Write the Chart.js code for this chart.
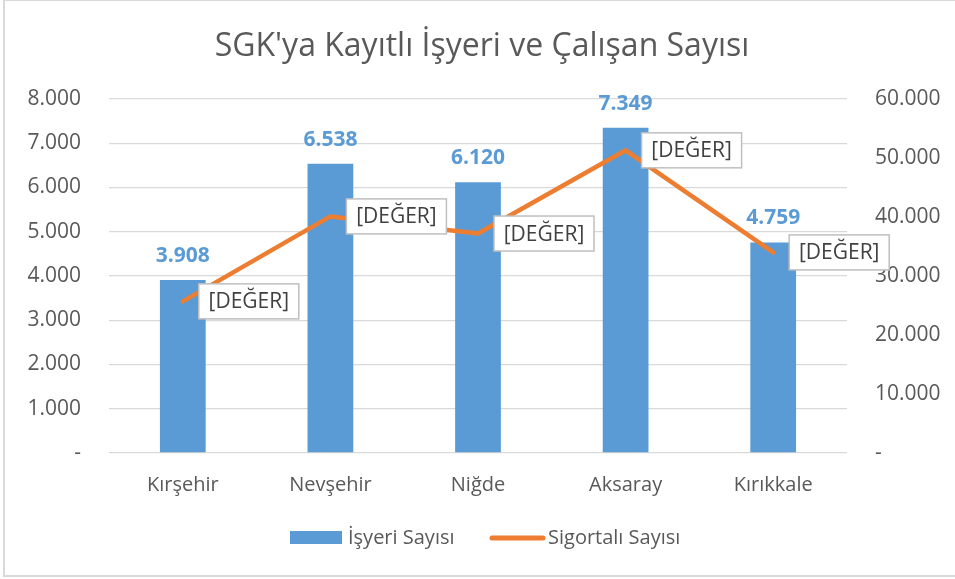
<!DOCTYPE html>
<html>
<head>
<meta charset="utf-8">
<script src="https://cdn.jsdelivr.net/npm/chart.js@4.4.1/dist/chart.umd.min.js"></script>
<style>
    html, body { margin: 0; padding: 0; background: #fff; }
    #wrap { position: absolute; left: 0; top: 0; width: 955px; height: 579px; }
</style>
</head>
<body>
<div id="wrap"><canvas id="mainChart" width="955" height="579"></canvas></div>
<script>
const cities = ['Kırşehir', 'Nevşehir', 'Niğde', 'Aksaray', 'Kırıkkale'];
const isyeriSayisi = [3908, 6538, 6120, 7349, 4759];
const sigortaliSayisi = [25700, 40100, 37200, 51300, 34000];
const lineLabel = '[DEĞER]';
const chartTitle = "SGK'ya Kayıtlı İşyeri ve Çalışan Sayısı";
const seriesNames = ['İşyeri Sayısı', 'Sigortalı Sayısı'];

const BLUE = '#5B9BD5';
const ORANGE = '#ED7D31';
const TEXT = '#595959';
const FONT = "'Open Sans', sans-serif";

function fmt(v) {
    if (v === 0) return '-';
    return String(v).replace(/\B(?=(\d{3})+(?!\d))/g, '.');
}

// border, title, value labels and legend
const decorations = {
    id: 'decorations',
    beforeDraw(chart) {
        const ctx = chart.ctx;
        ctx.save();
        ctx.strokeStyle = '#D9D9D9';
        ctx.lineWidth = 2;
        ctx.strokeRect(4, 0, 960, 576);
        ctx.restore();
    },
    afterDatasetsDraw(chart) {
        const ctx = chart.ctx;
        ctx.save();

        // boxes next to line points
        const lineMeta = chart.getDatasetMeta(1);
        ctx.font = '21px ' + FONT;
        ctx.textAlign = 'center';
        ctx.textBaseline = 'middle';
        lineMeta.data.forEach(pt => {
            const w = 100, h = 35;
            const bx = pt.x + 16, by = pt.y - h / 2;
            ctx.fillStyle = '#fff';
            ctx.fillRect(bx, by, w, h);
            ctx.strokeStyle = '#BFBFBF';
            ctx.lineWidth = 1.5;
            ctx.strokeRect(bx, by, w, h);
            ctx.fillStyle = '#404040';
            ctx.fillText(lineLabel, bx + w / 2, pt.y + 1);
        });

        // bar values
        const barMeta = chart.getDatasetMeta(0);
        ctx.font = 'bold 21px ' + FONT;
        ctx.fillStyle = BLUE;
        ctx.textBaseline = 'alphabetic';
        barMeta.data.forEach((bar, i) => {
            ctx.fillText(fmt(isyeriSayisi[i]), bar.x, bar.y - 18);
        });
        ctx.restore();
    },
    afterDraw(chart) {
        const ctx = chart.ctx;
        ctx.save();
        ctx.fillStyle = TEXT;
        ctx.font = '32px ' + FONT;
        ctx.textAlign = 'center';
        ctx.textBaseline = 'middle';
        ctx.fillText(chartTitle, 482, 47);

        ctx.font = '20px ' + FONT;
        ctx.textAlign = 'left';
        ctx.fillStyle = BLUE;
        ctx.fillRect(290, 531, 52, 13);
        ctx.fillStyle = TEXT;
        ctx.fillText(seriesNames[0], 348, 538);

        ctx.strokeStyle = ORANGE;
        ctx.lineWidth = 5;
        ctx.lineCap = 'round';
        ctx.beginPath();
        ctx.moveTo(492, 538);
        ctx.lineTo(543, 538);
        ctx.stroke();
        ctx.fillText(seriesNames[1], 548, 538);
        ctx.restore();
    }
};

const ctx = document.getElementById('mainChart').getContext('2d');
const chart = new Chart(ctx, {
    type: 'bar',
    data: {
        labels: cities,
        datasets: [
            {
                label: seriesNames[0],
                data: isyeriSayisi,
                backgroundColor: BLUE,
                yAxisID: 'y',
                categoryPercentage: 1,
                barPercentage: 0.31,
                order: 1,
            },
            {
                type: 'line',
                label: seriesNames[1],
                data: sigortaliSayisi,
                borderColor: ORANGE,
                borderWidth: 4.5,
                pointRadius: 0,
                tension: 0,
                fill: false,
                borderCapStyle: 'round',
                borderJoinStyle: 'round',
                yAxisID: 'y1',
                order: 0,
            },
        ],
    },
    options: {
        responsive: false,
        animation: false,
        layout: { padding: { top: 99, left: 0, right: 0, bottom: 0 } },
        plugins: {
            legend: { display: false },
            title: { display: false },
            tooltip: { enabled: false },
        },
        scales: {
            x: {
                grid: { display: false, drawTicks: false },
                border: { display: false },
                ticks: { color: TEXT, font: { family: FONT, size: 20 }, padding: 20 },
                afterFit: s => { s.height = 126; },
            },
            y: {
                position: 'left',
                min: 0, max: 8000,
                ticks: { stepSize: 1000, color: TEXT, font: { family: FONT, size: 21 }, padding: 28, callback: v => fmt(v) },
                grid: { color: '#D9D9D9', lineWidth: 1.3, drawTicks: false },
                border: { display: false },
                afterFit: s => { s.width = 109; },
            },
            y1: {
                position: 'right',
                min: 0, max: 60000,
                ticks: { stepSize: 10000, color: TEXT, font: { family: FONT, size: 21 }, padding: 28, callback: v => fmt(v) },
                grid: { display: false, drawTicks: false },
                border: { display: false },
                afterFit: s => { s.width = 108; },
            },
        },
    },
    plugins: [decorations],
});
</script>
</body>
</html>
